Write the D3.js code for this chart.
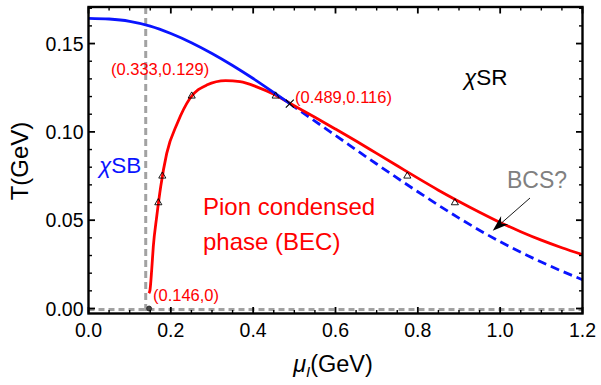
<!DOCTYPE html>
<html><head><meta charset="utf-8">
<script src="https://cdn.jsdelivr.net/npm/d3@7"></script>
<style>
html,body{margin:0;padding:0;background:#fff;}
svg{display:block;font-family:"Liberation Sans",Arial,sans-serif;}
</style></head>
<body>
<svg id="chart" width="601" height="385"></svg>
<script>
// ---- data ----
const xTicks = [0.0, 0.2, 0.4, 0.6, 0.8, 1.0, 1.2];
const xTickLabels = ["0.0", "0.2", "0.4", "0.6", "0.8", "1.0", "1.2"];
const yTicks = [0.00, 0.05, 0.10, 0.15];
const yTickLabels = ["0.00", "0.05", "0.10", "0.15"];

// chiral crossover line (blue): solid up to the crossing point, dashed beyond
const blueMu = [0, 0.05, 0.1, 0.15, 0.2, 0.25, 0.3, 0.35, 0.4, 0.45, 0.489,
                0.55, 0.6, 0.7, 0.8, 0.9, 1.0, 1.1, 1.2];
const blueT  = [0.1643, 0.1639, 0.1626, 0.1599, 0.1557, 0.1505, 0.1444, 0.1376, 0.1302, 0.1223, 0.1160,
                0.1061, 0.0980, 0.0818, 0.0661, 0.0512, 0.0378, 0.0263, 0.0163];
const crossMu = 0.489;
const crossT = 0.116;

// pion condensation boundary (red)
const redMu = [0.1468, 0.1494, 0.1535, 0.1574, 0.1657, 0.1754, 0.190, 0.216, 0.2466, 0.2871,
               0.333, 0.368, 0.4086, 0.449, 0.489, 0.55, 0.6, 0.65, 0.7, 0.75, 0.8, 0.85,
               0.9, 0.95, 1.0, 1.05, 1.1, 1.15, 1.2];
const redT  = [0.0086, 0.0105, 0.0218, 0.035, 0.052, 0.069, 0.0878, 0.105, 0.119, 0.1265,
               0.129, 0.1284, 0.1255, 0.1214, 0.1162, 0.1083, 0.1016, 0.0948, 0.0878, 0.0808, 0.0738, 0.0670,
               0.0606, 0.0545, 0.0487, 0.0435, 0.0387, 0.0344, 0.0305];

// data points (triangles)
const triMu = [0.1696, 0.1793, 0.2507, 0.4546, 0.7745, 0.890];
const triT  = [0.0599, 0.0750, 0.1203, 0.1203, 0.0750, 0.0599];

const mPi = 0.139;          // vertical dashed line
const bcStart = [0.146, 0]; // start of condensed phase

// ---- layout ----
const svg = d3.select("#chart");
const L = 88.5, R = 582.5, T = 7, B = 313.5;
const x = d3.scaleLinear().domain([0, 1.2]).range([L, R]);
const y = d3.scaleLinear().domain([-0.00283, 0.1707]).range([B, T]);

const tickFont = 19.5;

svg.append("clipPath").attr("id","clip").append("rect")
  .attr("x", L).attr("y", T).attr("width", R - L).attr("height", B - T);
const g = svg.append("g").attr("clip-path","url(#clip)");

// gray dashed reference lines
g.append("line").attr("x1", x(mPi)).attr("x2", x(mPi)).attr("y1", T).attr("y2", B)
  .attr("stroke","#a2a2a2").attr("stroke-width",3).attr("stroke-dasharray","7,4");
g.append("line").attr("x1", L).attr("x2", R).attr("y1", y(0)+1).attr("y2", y(0)+1)
  .attr("stroke","#a2a2a2").attr("stroke-width",3).attr("stroke-dasharray","6,4");

// curves
const line = d3.line().x(d => x(d[0])).y(d => y(d[1])).curve(d3.curveMonotoneX);
const bluePts = blueMu.map((m,i)=>[m, blueT[i]]);
const blueSolid = bluePts.filter(d => d[0] <= crossMu + 1e-9);
const blueDash = bluePts.filter(d => d[0] >= crossMu - 1e-9);
const redPts = redMu.map((m,i)=>[m, redT[i]]);

g.append("path").attr("d", line(blueDash)).attr("fill","none")
  .attr("stroke","#0a14ff").attr("stroke-width",2.8).attr("stroke-dasharray","9,5");
g.append("path").attr("d", line(redPts)).attr("fill","none")
  .attr("stroke","#ff0000").attr("stroke-width",2.8);
g.append("path").attr("d", line(blueSolid)).attr("fill","none")
  .attr("stroke","#0a14ff").attr("stroke-width",2.8);

// small dark point at (0.146,0)
g.append("circle").attr("cx", x(bcStart[0])+0.5).attr("cy", y(bcStart[1])).attr("r", 2.5)
  .attr("fill","#444").attr("stroke","#222").attr("stroke-width",0.8);

// triangles
const triSym = d3.symbol().type(d3.symbolTriangle).size(22);
g.selectAll(".tri").data(triMu.map((m,i)=>[m, triT[i]])).enter().append("path")
  .attr("d", triSym).attr("transform", d => `translate(${x(d[0])},${y(d[1])})`)
  .attr("fill","none").attr("stroke","#000").attr("stroke-width",0.9);

// cross marker
const cx = x(crossMu), cy = y(crossT), s = 4;
g.append("path").attr("d", `M${cx-s},${cy-s}L${cx+s},${cy+s}M${cx-s},${cy+s}L${cx+s},${cy-s}`)
  .attr("stroke","#000").attr("stroke-width",1.2);

// ---- frame & ticks ----
const frame = svg.append("g");
frame.append("rect").attr("x", L).attr("y", T).attr("width", R-L).attr("height", B-T)
  .attr("fill","none").attr("stroke","#000").attr("stroke-width",2.4);

const xMinor = d3.range(0, 1.2001, 0.05).filter(v => !xTicks.some(t => Math.abs(t - v) < 1e-6));
const yMinor = d3.range(0, 0.1701, 0.01).filter(v => !yTicks.some(t => Math.abs(t - v) < 1e-6));

function tickX(v, len, w){
  frame.append("line").attr("x1", x(v)).attr("x2", x(v)).attr("y1", B).attr("y2", B-len).attr("stroke","#000").attr("stroke-width",w);
  frame.append("line").attr("x1", x(v)).attr("x2", x(v)).attr("y1", T).attr("y2", T+len).attr("stroke","#000").attr("stroke-width",w);
}
function tickY(v, len, w){
  frame.append("line").attr("y1", y(v)).attr("y2", y(v)).attr("x1", L).attr("x2", L+len).attr("stroke","#000").attr("stroke-width",w);
  frame.append("line").attr("y1", y(v)).attr("y2", y(v)).attr("x1", R).attr("x2", R-len).attr("stroke","#000").attr("stroke-width",w);
}
xTicks.forEach(v => tickX(v, 6.5, 1.8));
xMinor.forEach(v => tickX(v, 3.5, 1.4));
yTicks.forEach(v => tickY(v, 6.5, 1.8));
yMinor.forEach(v => tickY(v, 3.5, 1.4));

// tick labels
svg.selectAll(".xl").data(xTicks).enter().append("text")
  .attr("x", d => x(d)).attr("y", 336.5).attr("text-anchor","middle")
  .attr("font-size", tickFont).attr("fill","#000").text((d,i) => xTickLabels[i]);
svg.selectAll(".yl").data(yTicks).enter().append("text")
  .attr("x", 83.5).attr("y", d => y(d) + 7).attr("text-anchor","end")
  .attr("font-size", tickFont).attr("fill","#000").text((d,i) => yTickLabels[i]);

// axis titles
const xt = svg.append("text").attr("x", 333).attr("y", 372).attr("text-anchor","middle")
  .attr("font-size", 23.5).attr("fill","#000");
xt.append("tspan").attr("font-style","italic").text("μ");
xt.append("tspan").attr("font-style","italic").attr("font-size", 15).attr("dy", 5).text("I");
xt.append("tspan").attr("dy", -5).text("(GeV)");

svg.append("text").attr("transform","translate(28,161) rotate(-90)").attr("text-anchor","middle")
  .attr("font-size", 24).attr("fill","#000").text("T(GeV)");

// annotations
function label(txt, px, py, size, color, anchor){
  return svg.append("text").attr("x", px).attr("y", py).attr("font-size", size)
    .attr("fill", color).attr("text-anchor", anchor || "start").text(txt);
}
label("(0.333,0.129)", 111, 75, 16.5, "#ff0000");
label("(0.489,0.116)", 295, 103, 16.5, "#ff0000");
label("(0.146,0)", 153, 301, 16.5, "#ff0000");
label("Pion condensed", 203, 215, 24, "#ff0000");
label("phase (BEC)", 203, 250, 24, "#ff0000");
label("BCS?", 507, 188, 23, "#808080");

const sb = svg.append("text").attr("x", 99).attr("y", 173).attr("font-size", 22.5).attr("fill","#0a14ff");
sb.append("tspan").attr("font-style","italic").text("χ");
sb.append("tspan").text("SB");
const sr = svg.append("text").attr("x", 464).attr("y", 85).attr("font-size", 22.5).attr("fill","#000");
sr.append("tspan").attr("font-style","italic").text("χ");
sr.append("tspan").text("SR");

// arrow pointing to BCS region
const ax0 = 530, ay0 = 198, ax1 = 492.7, ay1 = 230.7;
const ang = Math.atan2(ay1 - ay0, ax1 - ax0);
svg.append("line").attr("x1", ax0).attr("y1", ay0).attr("x2", ax1 + 10*Math.cos(ang+Math.PI)).attr("y2", ay1 + 10*Math.sin(ang+Math.PI))
  .attr("stroke","#000").attr("stroke-width",0.9);
const hl = 16, hw = 5.5, notch = 11;
const ux = Math.cos(ang), uy = Math.sin(ang), nx = -uy, ny = ux;
const bx = ax1 - hl*ux, by = ay1 - hl*uy;
const mx = ax1 - notch*ux, my = ay1 - notch*uy;
svg.append("path").attr("d",
  `M${ax1},${ay1}L${bx + hw*nx},${by + hw*ny}L${mx},${my}L${bx - hw*nx},${by - hw*ny}Z`)
  .attr("fill","#000");
</script>
</body></html>
